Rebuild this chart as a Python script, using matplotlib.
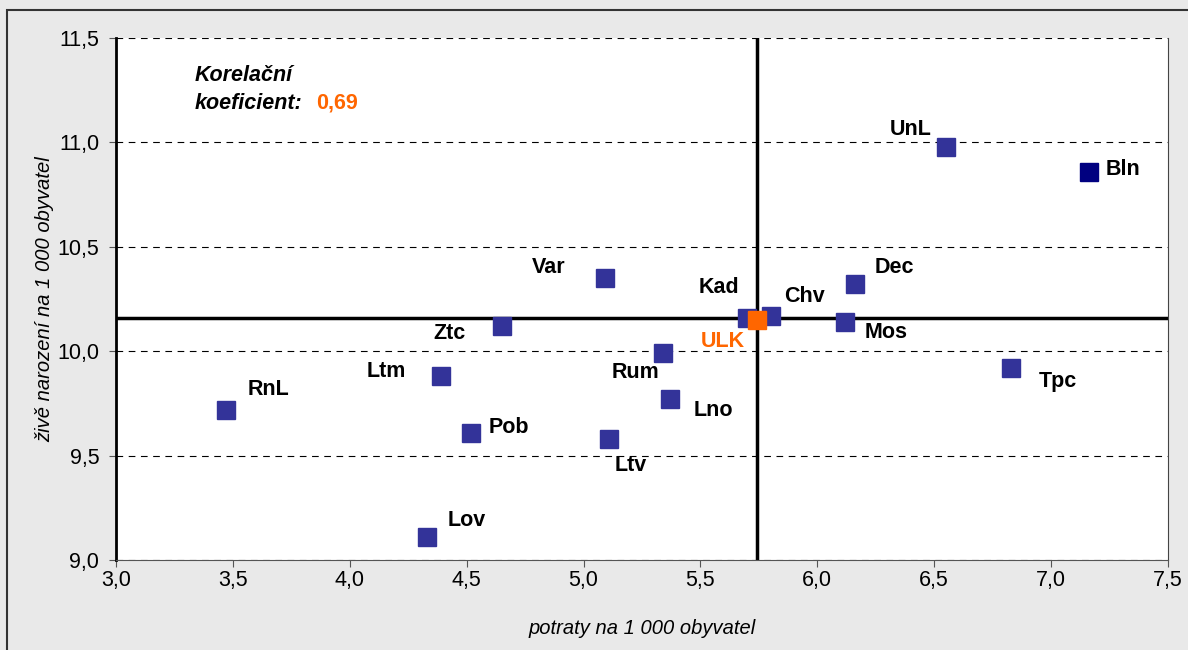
import matplotlib.pyplot as plt
from matplotlib.patches import Rectangle
from matplotlib.ticker import FuncFormatter

# okresy Ústeckého kraje
names = ['RnL', 'Lov', 'Ltm', 'Pob', 'Ztc', 'Var', 'Ltv', 'Rum', 'Lno',
         'Kad', 'Chv', 'Dec', 'Mos', 'UnL', 'Bln', 'Tpc']
potraty = [3.47, 4.33, 4.39, 4.52, 4.65, 5.09, 5.11, 5.34, 5.37,
           5.70, 5.80, 6.16, 6.12, 6.55, 7.16, 6.83]
narozeni = [9.72, 9.11, 9.88, 9.61, 10.12, 10.35, 9.58, 9.99, 9.77,
            10.16, 10.17, 10.32, 10.14, 10.98, 10.86, 9.92]

# kraj
ulk_x = 5.74
ulk_y = 10.15
korelace = '0,69'

# label offsets in pixels (dx, dy, ha)
offsets = {
    'RnL': (22, 20, 'left'), 'Lov': (21, 17, 'left'), 'Ltm': (-35, 5, 'right'),
    'Pob': (17, 5, 'left'), 'Ztc': (-36, -7, 'right'), 'Var': (-39, 11, 'right'),
    'Ltv': (5, -27, 'left'), 'Rum': (-4, -19, 'right'), 'Lno': (24, -11, 'left'),
    'Kad': (-8, 30, 'right'), 'Chv': (14, 19, 'left'), 'Dec': (20, 17, 'left'),
    'Mos': (19, -11, 'left'), 'UnL': (-14, 17, 'right'), 'Bln': (17, 2, 'left'),
    'Tpc': (27, -14, 'left'),
}

plt.rcParams['font.family'] = ['Liberation Sans', 'DejaVu Sans']

fig = plt.figure(figsize=(11.88, 6.5), dpi=100)
fig.patch.set_facecolor('#E9E9E9')
# outer frame (right and bottom edges fall outside the picture)
fig.patches.append(Rectangle((7 / 1188, -10 / 650), 1200 / 1188, 650 / 650,
                             transform=fig.transFigure, fill=False,
                             edgecolor='#333333', linewidth=1.5))
ax = fig.add_axes([116 / 1188, 1 - 560 / 650, 1052 / 1188, 522 / 650])
ax.set_facecolor('white')

blue = '#333399'
orange = '#FF6600'
fs = 15.5

for n, x, y in zip(names, potraty, narozeni):
    c = '#000080' if n == 'Bln' else blue
    ax.plot(x, y, marker='s', markersize=13, color=c, linestyle='none', zorder=3)
    dx, dy, ha = offsets[n]
    ax.annotate(n, (x, y), xytext=(dx, dy), textcoords='offset pixels',
                ha=ha, va='center', fontsize=fs, fontweight='bold')

ax.plot(ulk_x, ulk_y, marker='s', markersize=13, color=orange, linestyle='none', zorder=4)
ax.annotate('ULK', (ulk_x, ulk_y), xytext=(-12, -22), textcoords='offset pixels',
            ha='right', va='center', fontsize=fs, fontweight='bold', color=orange)

# průměr kraje - kříž
ax.axhline(10.16, color='black', linewidth=2.5, zorder=2)
ax.plot([ulk_x, ulk_x], [9.01, 11.5], color='black', linewidth=2.5, zorder=2)

ax.text(0.075, 0.929, 'Korelační', transform=ax.transAxes, fontsize=fs,
        fontweight='bold', fontstyle='italic', va='center')
ax.text(0.075, 0.875, 'koeficient:', transform=ax.transAxes, fontsize=fs,
        fontweight='bold', fontstyle='italic', va='center')
ax.text(0.19, 0.875, korelace, transform=ax.transAxes, fontsize=fs,
        fontweight='bold', color=orange, va='center')

ax.set_xlim(3.0, 7.5)
ax.set_ylim(9.0, 11.5)
ax.set_xticks([3.0, 3.5, 4.0, 4.5, 5.0, 5.5, 6.0, 6.5, 7.0, 7.5])
ax.set_yticks([9.0, 9.5, 10.0, 10.5, 11.0, 11.5])
fmt = FuncFormatter(lambda v, p: f'{v:.1f}'.replace('.', ','))
ax.xaxis.set_major_formatter(fmt)
ax.yaxis.set_major_formatter(fmt)
ax.tick_params(axis='both', labelsize=fs, direction='out', length=5, color='#555555')
ax.tick_params(axis='x', pad=2)
ax.tick_params(axis='y', pad=7)

ax.grid(axis='y', color='black', linestyle=(0, (6, 5)), linewidth=0.8)
ax.set_axisbelow(True)

ax.spines['top'].set_visible(False)
ax.spines['left'].set_color('black')
ax.spines['left'].set_linewidth(2)
ax.spines['bottom'].set_color('#555555')
ax.spines['right'].set_color('#444444')

ax.set_xlabel('potraty na 1 000 obyvatel', fontsize=14.5, fontstyle='italic', labelpad=20)
ax.set_ylabel('živě narození na 1 000 obyvatel', fontsize=14.5, fontstyle='italic', labelpad=2)

plt.savefig('out.png', dpi=100, facecolor=fig.get_facecolor())
